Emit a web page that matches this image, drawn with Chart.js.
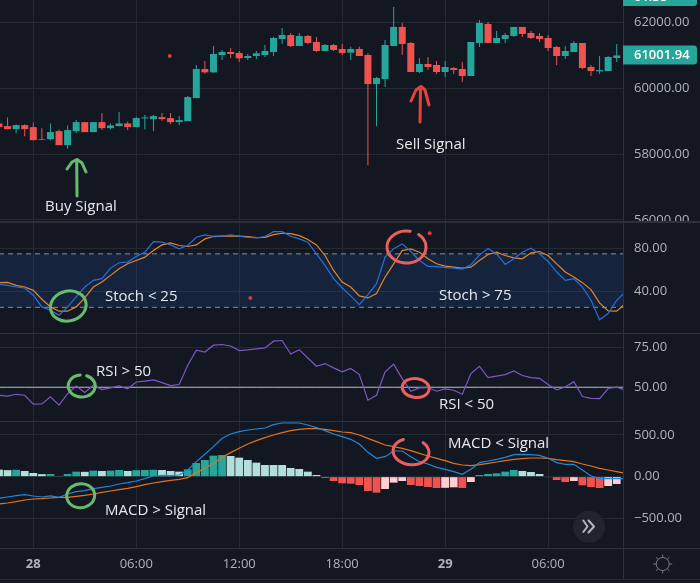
<!DOCTYPE html>
<html>
<head>
<meta charset="utf-8">
<style>
    html, body { margin: 0; padding: 0; background: #131722; }
    #wrap { position: relative; width: 700px; height: 583px; }
</style>
</head>
<body>
<div id="wrap"><canvas id="chart" width="700" height="583"></canvas></div>
<script src="https://cdn.jsdelivr.net/npm/chart.js@4/dist/chart.umd.min.js"></script>
<script>
// half hour bars, first one sits just off the left edge
const firstBar = -4;

const opens = [58935,58853,58762,58884,58823,58457,58457,58701,58275,58701,58975,58671,58975,58792,58853,58935,58823,59087,59066,59127,59097,58975,59006,59706,60589,60487,61015,61107,61076,60924,60985,61015,61107,61502,61624,61289,61594,61411,61137,61320,61198,61086,61198,61015,60132,60284,61289,61868,61381,60498,60741,60711,60498,60619,60589,60376,61381,61959,61381,61502,61594,61868,61685,61594,61533,61259,60985,61107,61381,60650,60518,60528,60924];
const highs = [58935,59117,58904,58914,58965,58792,58935,58752,58874,59036,58975,58975,59249,58935,59280,58996,59138,59188,59188,59249,59249,59158,59767,60711,60833,61289,61168,61228,61137,61046,61137,61320,61563,61837,61685,61685,61624,61563,61350,61350,61350,61269,61269,61066,60345,61472,62477,61990,61411,60924,60954,60833,60833,60650,60802,61411,62081,62020,61746,61685,61868,61868,61746,61685,61624,61289,61289,61442,61381,60711,60985,60985,61350];
const lows = [58823,58762,58640,58549,58427,58427,58427,58275,58163,58640,58671,58671,58732,58762,58853,58732,58823,58762,58701,59006,58914,58884,59006,59706,60447,60477,60863,60924,60802,60863,60893,60954,60985,61350,61259,61289,61350,61107,61137,61137,61015,60863,60985,57666,58853,60041,61289,61015,60498,60467,60558,60437,60345,60437,60193,60376,61259,61381,61381,61381,61563,61563,61502,61411,61137,60711,60893,61107,60589,60376,60437,60528,60802];
const closes = [58823,58762,58884,58762,58427,58437,58671,58275,58732,58975,58671,58975,58792,58874,58935,58823,59097,59117,59158,59066,58975,59036,59736,60589,60487,61046,61107,61046,60914,60985,61066,61137,61533,61624,61289,61594,61381,61137,61320,61168,61076,61198,60985,60132,60315,61320,61868,61350,60498,60741,60650,60498,60650,60558,60376,61411,61990,61381,61533,61624,61868,61655,61533,61502,61228,60985,61137,61381,60619,60528,60558,60954,61001.94];

const stochK = [46.5,45.6,44,43.1,36.3,25.4,22.3,17.7,25.4,34.7,44,50.2,51.8,61.7,66.7,67.3,72.6,76.6,86.5,85.9,83.4,79.7,82.8,90.5,92.7,91.5,91.5,92.7,91.5,90.5,89.9,91.2,95.8,95.8,91.5,89,85.9,75,64.2,51.8,43.1,35.7,27.6,36.9,47.1,72,79.7,84.3,77.2,68.8,63.3,63,62.3,61.7,60.8,64.8,74.1,80,75,65.1,70.4,76.6,80.3,75,67.9,58,50.2,51.8,44,31.6,13.4,19.2,31.6,39.4];
const stochD = [48,48.4,45.6,44,40.9,32.6,25.4,21.4,21.4,25.4,33.8,44,48.7,54.9,61.1,65.7,68.8,71.9,78.1,83.4,85.3,82.8,81.9,83.4,89,91.2,91.5,91.8,91.5,91.2,90.2,90.5,93,94.3,94,92.1,88.4,83.4,73.5,59.5,48.7,44,35.7,33.8,37.8,53.3,65.7,78.1,79.7,76.6,70.4,65.7,63.6,62.6,61.7,62.6,68.8,74.4,76.6,73.5,71.3,70.4,76,77.2,73.5,65.7,58,53.3,48.1,41.6,29.2,21.7,21.4,28.5];
const rsi = [45,44.4,45.6,45,39.4,39.6,44,38.8,46,50.8,46.7,51.2,48.5,49.6,50.8,49,53.3,53.8,54.6,52.9,51,51.7,63.8,73.1,72,76.3,76.7,75.8,72.9,73.3,74,74.6,78.8,79.2,70.8,73.5,68.3,63.1,64.8,62.1,59.6,61.7,57.9,41.9,45,59.6,64.4,55.4,47.5,49.6,49.8,47.5,49,48.1,45.6,58.5,63.1,56,56.9,57.9,60.2,57.3,56,55.6,51.7,48.3,50.2,53.5,44.2,43.1,42.9,49.2,50,48.1];
const macd = [-260,-244,-228,-216,-232,-244,-232,-248,-208,-180,-168,-144,-128,-112,-88,-72,-52,-24,8,16,12,20,80,180,268,360,460,512,540,560,572,584,624,644,644,644,620,588,552,512,480,448,392,292,220,240,308,308,240,180,152,112,88,60,28,88,168,188,208,232,264,268,264,256,220,168,148,148,80,8,-24,-24,-24,-24];
const signal = [-328,-316,-300,-280,-268,-264,-256,-248,-248,-236,-224,-208,-188,-172,-156,-140,-120,-96,-76,-60,-44,-32,-12,48,100,160,232,288,340,392,432,468,500,528,552,568,576,576,568,552,536,528,500,460,420,380,360,340,312,280,248,220,192,160,140,132,144,160,176,192,208,216,224,224,220,204,192,180,152,128,100,80,60,40];
const histogram = [84,78,82,68,44,30,32,8,32,60,58,72,68,72,80,68,78,80,82,80,68,60,88,164,200,252,260,248,228,200,168,140,140,140,104,92,60,20,-16,-52,-80,-84,-100,-172,-192,-148,-72,-52,-100,-112,-124,-136,-134,-128,-136,-64,20,32,40,60,80,68,56,32,-4,-40,-64,-52,-104,-124,-136,-112,-88];

const stochUpper = 75;
const stochLower = 25;
const rsiMiddle = 50;

const priceTicks = [62000, 60000, 58000, 56000];
const stochTicks = [80, 40];
const rsiTicks = [75, 50];
const macdTicks = [500, 0, -500];
const timeTicks = [0, 12, 24, 36, 48, 60];
const timeLabels = ['28', '06:00', '12:00', '18:00', '29', '06:00'];

// stray dots left on the screenshot
const priceDots = [{ x: 15.9, y: 60982 }];
const stochDots = [{ x: 25.3, y: 33.8 }, { x: 46.2, y: 94.3 }];

const TEAL = '#26a69a';
const TEAL_LIGHT = '#b2dfdb';
const RED = '#ef5350';
const RED_LIGHT = '#ffcdd2';
const GRID = '#252934';
const EDGE = '#2e323d';
const LABEL = '#b0b3bb';
const GREEN_INK = '#68bb6c';
const RED_INK = '#e9413a';
const RING_RED = '#e8605f';
const FONT = '"Open Sans"';

const xOf = i => i + firstBar;
const pts = arr => arr.map((v, i) => ({ x: xOf(i), y: v }));
const flat = (arr, v) => arr.map((_, i) => ({ x: xOf(i), y: v }));
const noPadding = s => { s.getPadding = () => ({ left: 0, top: 0, right: 0, bottom: 0 }); };

function bodyColors() {
    return opens.map((o, i) => closes[i] >= o ? TEAL : RED);
}

function histColors() {
    return histogram.map((v, i) => {
        const rising = i > 0 && v > histogram[i - 1];
        if (v >= 0) return rising ? TEAL : TEAL_LIGHT;
        return rising ? RED_LIGHT : RED;
    });
}

function lineSet(yAxisID, data, color, extra) {
    return Object.assign({
        type: 'line', yAxisID, data, borderColor: color, borderWidth: 1.2,
        pointRadius: 0, tension: 0, fill: false, order: 1
    }, extra);
}

function yAxis(weight, min, max, tickList) {
    return {
        type: 'linear', position: 'right', stack: 'panes', stackWeight: weight, min, max,
        beforeUpdate: noPadding,
        afterBuildTicks: s => { s.ticks = tickList.map(v => ({ value: v })); },
        afterFit: s => { s.width = 77; },
        border: { display: false },
        grid: { color: GRID, drawTicks: false },
        ticks: {
            color: LABEL, padding: 11, crossAlign: 'near', font: { family: FONT, size: 13 },
            callback: v => v.toFixed(2).replace('-', '\u2212')
        }
    };
}

function line(ctx, points, color, width) {
    ctx.beginPath();
    points.forEach((p, i) => i ? ctx.lineTo(p[0], p[1]) : ctx.moveTo(p[0], p[1]));
    ctx.strokeStyle = color;
    ctx.lineWidth = width;
    ctx.stroke();
}

function ring(ctx, cx, cy, rx, ry, rot, from, to, color) {
    ctx.beginPath();
    ctx.ellipse(cx, cy, rx, ry, rot, from, to);
    ctx.strokeStyle = color;
    ctx.lineWidth = 3;
    ctx.stroke();
}

function note(ctx, text, x, y) {
    ctx.fillStyle = '#e6e9ec';
    ctx.font = '15px ' + FONT;
    ctx.textAlign = 'left';
    ctx.textBaseline = 'middle';
    ctx.fillText(text, x, y);
}

// pane edges, price tags, hand drawn marks and the two small buttons
const overlay = {
    id: 'overlay',
    afterDraw(chart) {
        const ctx = chart.ctx;
        ctx.save();

        // the 56000 label is cut off by the pane edge
        ctx.fillStyle = '#131722';
        ctx.fillRect(624, 223, 76, 14);

        ctx.fillStyle = '#2c303b';
        ctx.fillRect(0, 221, 700, 2);
        line(ctx, [[0, 333.5], [700, 333.5]], EDGE, 1);
        line(ctx, [[0, 421.5], [623, 421.5]], EDGE, 1);
        line(ctx, [[0, 548.5], [700, 548.5]], EDGE, 1);
        line(ctx, [[0, 579.5], [700, 579.5]], GRID, 1);
        line(ctx, [[623.5, 0], [623.5, 579]], EDGE, 1);

        // price tags
        const lastY = chart.scales.yPrice.getPixelForValue(closes[closes.length - 1]);
        ctx.fillStyle = TEAL;
        ctx.beginPath();
        ctx.roundRect(623, lastY - 10, 74, 19, [0, 3, 3, 0]);
        ctx.fill();
        ctx.beginPath();
        ctx.roundRect(623, -14, 74, 20, [0, 3, 3, 0]);
        ctx.fill();
        ctx.fillStyle = '#ffffff';
        ctx.font = '600 13px ' + FONT;
        ctx.textAlign = 'left';
        ctx.textBaseline = 'middle';
        ctx.fillText(closes[closes.length - 1].toFixed(2), 634, lastY - 0.5);
        ctx.fillText('01:38', 634, -3);

        ctx.lineCap = 'round';
        ctx.lineJoin = 'round';

        // arrows
        line(ctx, [[77, 196], [76.7, 160]], GREEN_INK, 3);
        line(ctx, [[67, 169], [72, 162], [77, 159.5], [82, 163], [86, 172]], GREEN_INK, 3);
        line(ctx, [[420, 122], [420.5, 87]], RED_INK, 3);
        line(ctx, [[411, 101], [416, 90], [421, 86.5], [425, 90], [429, 105]], RED_INK, 3);

        // circles
        ring(ctx, 68.3, 306, 18, 15, -0.25, -1.5, 4.9, GREEN_INK);
        ring(ctx, 81.7, 386, 13.5, 11, 0, -1.2, 4.6, GREEN_INK);
        ring(ctx, 80.7, 495.7, 14, 12, -0.1, -1.4, 4.9, GREEN_INK);
        ring(ctx, 406.5, 247, 19.5, 16, 0, -0.9, 4.9, RING_RED);
        ring(ctx, 415.7, 388, 13.5, 9.5, 0.1, -1.5, 4.8, RING_RED);
        ring(ctx, 411, 451.7, 18, 13, 0.1, -0.9, 4.2, RING_RED);

        note(ctx, 'Buy Signal', 45, 206.7);
        note(ctx, 'Sell Signal', 396, 144.7);
        note(ctx, 'Stoch < 25', 105, 296.7);
        note(ctx, 'Stoch > 75', 439, 295.7);
        note(ctx, 'RSI > 50', 96, 371.7);
        note(ctx, 'RSI < 50', 439, 404.7);
        note(ctx, 'MACD > Signal', 105, 510.7);
        note(ctx, 'MACD < Signal', 448, 444);

        // scroll to latest button
        ctx.fillStyle = '#1f2430';
        ctx.beginPath();
        ctx.arc(589, 526.7, 16, 0, Math.PI * 2);
        ctx.fill();
        line(ctx, [[583.3, 520.5], [587.5, 526.5], [583.3, 532]], '#b2b5be', 2);
        line(ctx, [[588.5, 520.5], [594, 526.5], [588.5, 532.5]], '#b2b5be', 2);

        // settings icon
        ctx.lineCap = 'butt';
        ctx.strokeStyle = '#787b86';
        ctx.lineWidth = 1;
        ctx.beginPath();
        ctx.arc(662.7, 564, 6.5, 0, Math.PI * 2);
        ctx.stroke();
        for (let a = 0; a < 8; a++) {
            const t = a * Math.PI / 4;
            line(ctx, [[662.7 + Math.cos(t) * 6.5, 564 + Math.sin(t) * 6.5],
                       [662.7 + Math.cos(t) * 9.5, 564 + Math.sin(t) * 9.5]], '#787b86', 1);
        }
        ctx.restore();
    }
};

new Chart(document.getElementById('chart'), {
    data: {
        datasets: [
            {
                type: 'bar', yAxisID: 'yPrice', data: pts(lows.map((l, i) => [l, highs[i]])),
                backgroundColor: bodyColors(), barThickness: 1, grouped: false, inflateAmount: 0, order: 3
            },
            {
                type: 'bar', yAxisID: 'yPrice', data: pts(opens.map((o, i) => [o, closes[i]])),
                backgroundColor: bodyColors(), barThickness: 7, grouped: false, inflateAmount: 0, order: 2
            },
            lineSet('yPrice', priceDots, '#d93a3a', { showLine: false, pointRadius: 2, pointBackgroundColor: '#d93a3a', pointBorderWidth: 0 }),

            lineSet('yStoch', flat(stochK, stochUpper), '#8e919a', { borderWidth: 1, borderDash: [5, 4], fill: '+1', backgroundColor: 'rgba(33,100,190,0.17)', order: 5 }),
            lineSet('yStoch', flat(stochK, stochLower), '#8e919a', { borderWidth: 1, borderDash: [5, 4], order: 5 }),
            lineSet('yStoch', pts(stochD), '#e5852c', { order: 2 }),
            lineSet('yStoch', pts(stochK), '#2a6fdb', { order: 1 }),
            lineSet('yStoch', stochDots, '#d93a3a', { showLine: false, pointRadius: 2, pointBackgroundColor: '#d93a3a', pointBorderWidth: 0 }),

            lineSet('yRsi', flat(rsi, rsiMiddle), '#b9bcc4', { borderWidth: 1, order: 3 }),
            lineSet('yRsi', pts(rsi), '#7e57c2', { order: 1 }),

            {
                type: 'bar', yAxisID: 'yMacd', data: pts(histogram),
                backgroundColor: histColors(), barThickness: 7.8, grouped: false, inflateAmount: 0, order: 5
            },
            lineSet('yMacd', pts(signal), '#e5721c', { order: 2 }),
            lineSet('yMacd', pts(macd), '#2188d8', { order: 1 })
        ]
    },
    options: {
        responsive: false,
        animation: false,
        events: [],
        layout: { padding: 0, autoPadding: false },
        plugins: { legend: { display: false }, tooltip: { enabled: false } },
        scales: {
            x: {
                type: 'linear', position: 'bottom', min: -3.88, max: 68.73, offset: false,
                beforeUpdate: noPadding,
                afterBuildTicks: s => { s.ticks = timeTicks.map(v => ({ value: v })); },
                afterFit: s => { s.height = 35; },
                border: { display: false },
                grid: { color: GRID, drawTicks: false, offset: false },
                ticks: {
                    color: LABEL, padding: 8, maxRotation: 0, autoSkip: false,
                    font: c => ({ family: FONT, size: 13, weight: (c.index === 0 || c.index === 4) ? '700' : '400' }),
                    callback: (v, i) => timeLabels[i]
                }
            },
            yPrice: yAxis(222, 55939, 62687, priceTicks),
            yStoch: yAxis(111, 1, 104.8, stochTicks),
            yRsi: yAxis(88, 28.9, 83.9, rsiTicks),
            yMacd: yAxis(127, -856.5, 668, macdTicks)
        }
    },
    plugins: [overlay]
});
</script>
</body>
</html>
